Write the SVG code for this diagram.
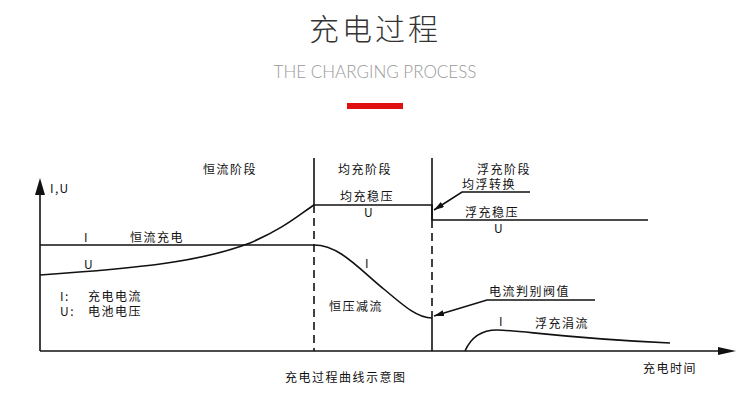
<svg xmlns="http://www.w3.org/2000/svg" width="750" height="404" viewBox="0 0 750 404">
<style>
.l{font-family:"Noto Sans CJK SC","Liberation Serif",serif;font-size:12px;fill:#111;letter-spacing:1.5px}
.ln{stroke:#111;stroke-width:1.6;fill:none}
</style>
<defs><marker id="a" markerWidth="10" markerHeight="6" refX="10" refY="3" orient="auto" markerUnits="userSpaceOnUse"><path d="M0,0L10,3L0,6z" fill="#111"/></marker></defs>
<rect width="750" height="404" fill="#fff"/>
<g id="title">
<text x="375" y="40" text-anchor="middle" font-family="Noto Sans CJK SC,sans-serif" font-weight="300" font-size="30" fill="#333" letter-spacing="3">充电过程</text>
<text x="375" y="78" text-anchor="middle" font-family="Lato,sans-serif" font-weight="300" font-size="17" fill="#999">THE CHARGING PROCESS</text>
<rect x="347" y="103" width="56" height="6" fill="#e01010"/>
</g>
<g id="connectors">
<line class="ln" x1="40" y1="351" x2="40" y2="192"/>
<path d="M35,195L40,178L45,195z" fill="#111"/>
<line class="ln" x1="40" y1="351" x2="722" y2="351"/>
<path d="M718,347L736,351L718,355z" fill="#111"/>
<line class="ln" x1="314" y1="158" x2="314" y2="205"/>
<line class="ln" x1="314" y1="205" x2="314" y2="351" stroke-dasharray="8,5" stroke-width="2"/>
<line class="ln" x1="432" y1="158" x2="432" y2="220"/>
<line class="ln" x1="432" y1="220" x2="432" y2="318" stroke-dasharray="8,5" stroke-width="2"/>
<line class="ln" x1="432" y1="318" x2="432" y2="351"/>
<path class="ln" d="M40,275C140,268 200,262 250,243C285,228 300,214 314,205H432V220H648"/>
<path class="ln" d="M40,245H314C340,245 360,270 385,290C405,307 418,318 432,318"/>
<path class="ln" d="M465,351C472,335 485,330 497,330C520,330 560,338 670,343"/>
<path class="ln" d="M530,192H462L434,210" marker-end="url(#a)"/>
<path class="ln" d="M595,300H487L434,316" marker-end="url(#a)"/>
</g>
<g id="labels">
<text class="l" x="203" y="174">恒流阶段</text>
<text class="l" x="338" y="174">均充阶段</text>
<text class="l" x="477" y="174">浮充阶段</text>
<text class="l" x="462" y="189">均浮转换</text>
<text class="l" x="50" y="193" font-size="10">I,U</text>
<text class="l" x="340" y="201">均充稳压</text>
<text class="l" x="364" y="217" font-size="10">U</text>
<text class="l" x="465" y="217">浮充稳压</text>
<text class="l" x="494" y="233" font-size="10">U</text>
<text class="l" x="84" y="242" font-size="10">I</text>
<text class="l" x="130" y="242">恒流充电</text>
<text class="l" x="84" y="269" font-size="10">U</text>
<text class="l" x="365" y="268" font-size="10">I</text>
<text class="l" x="489" y="296">电流判别阀值</text>
<text class="l" x="60" y="301" font-size="11">I:</text>
<text class="l" x="88" y="301" font-size="11">充电电流</text>
<text class="l" x="60" y="316" font-size="11">U:</text>
<text class="l" x="88" y="316" font-size="11">电池电压</text>
<text class="l" x="329" y="311">恒压减流</text>
<text class="l" x="499" y="326" font-size="10">I</text>
<text class="l" x="535" y="328">浮充涓流</text>
<text class="l" x="643" y="373">充电时间</text>
<text class="l" x="285" y="382" font-size="13">充电过程曲线示意图</text>
</g>
</svg>
